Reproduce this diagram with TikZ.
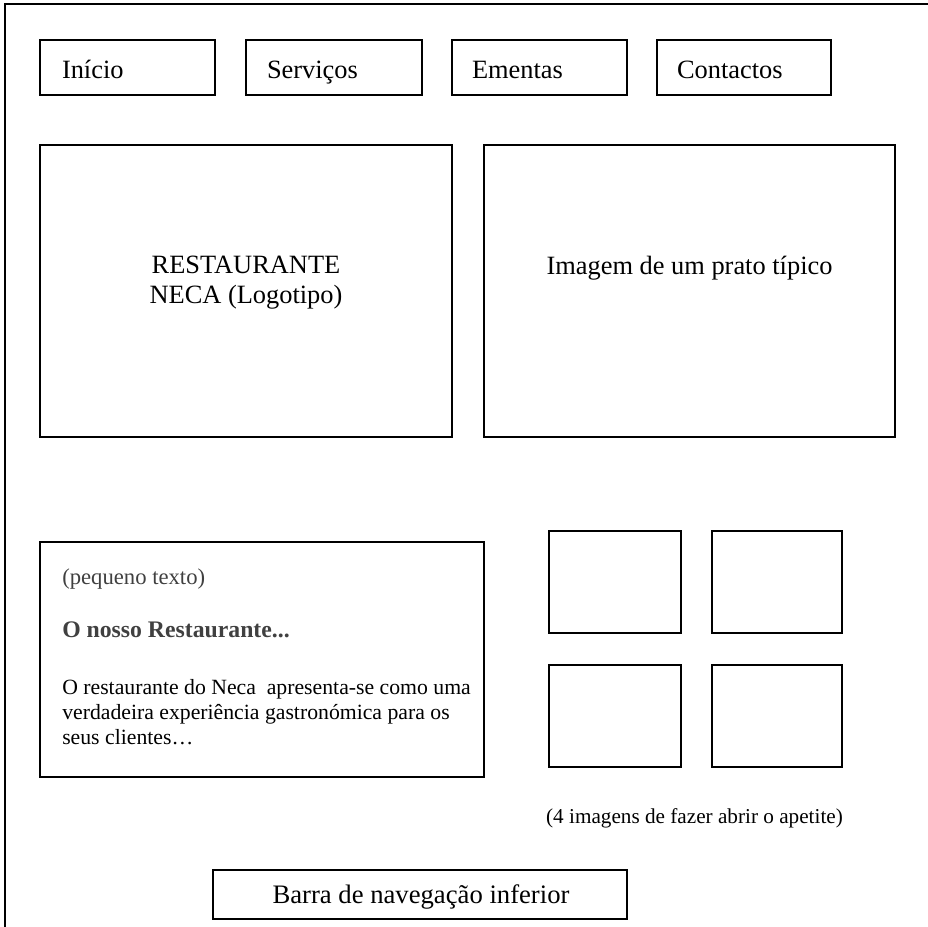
\documentclass[tikz,border=0pt]{standalone}
\usepackage{fontspec}
\setmainfont{Liberation Serif}
\definecolor{txtgray}{HTML}{404040}
\begin{document}
\begin{tikzpicture}[x=0.75pt,y=-0.75pt,
  box/.style={draw=black,line width=1.1pt,inner sep=0pt,fill=none},
  navbox/.style={draw=black,line width=1.1pt,minimum height=41.25pt,inner ysep=0pt,text height=17pt,text depth=1.2pt,align=left,font=\fontsize{19.8}{23}\selectfont},
  bigtxt/.style={font=\fontsize{19.8}{22.5}\selectfont,align=center,inner sep=0pt},
  para/.style={font=\fontsize{16.3}{18.75}\selectfont,align=left,inner sep=0pt,anchor=west},
  frame/.style={line width=1.6pt}]
\useasboundingbox (0,0) rectangle (928,927);
% outer frame
\coordinate (ftl) at (5,4);
\coordinate (ftr) at (928,4);
\coordinate (fbl) at (5,927);
\draw[frame] (ftr) -- (ftl) -- (fbl);
% navigation boxes
\node[navbox,inner xsep=16.5pt,text width=98.25pt] (inicio) at (127.5,67.5) {Início};
\node[navbox,inner xsep=15.75pt,text width=100.5pt] (servicos) at (334,67.5) {Serviços};
\node[navbox,inner xsep=15pt,text width=101.25pt] (ementas) at (539.5,67.5) {Ementas};
\node[navbox,inner xsep=15pt,text width=100.5pt] (contactos) at (744,67.5) {Contactos};
% big boxes
\node[box,minimum width=309pt,minimum height=219pt] (logo) at (246,291) {};
\node[bigtxt] (logotxt) at (246,283) {RESTAURANTE\\NECA (Logotipo)};
\node[box,minimum width=308.25pt,minimum height=219pt] (prato) at (689.5,291) {};
\node[bigtxt] (pratotxt) at (689.5,268) {Imagem de um prato típico};
% text box
\node[box,minimum width=333pt,minimum height=176.25pt] (textbox) at (262,659.5) {};
\node[para,text=txtgray,font=\fontsize{17}{20}\selectfont] (peq) at (62,579) {(pequeno texto)};
\node[para,text=txtgray,font=\bfseries\fontsize{17.8}{20}\selectfont] (nosso) at (62,630) {O nosso Restaurante...};
\node[para,anchor=north west] (desc) at (62,679) {O restaurante do Neca \ apresenta-se como uma\\verdadeira experiência gastronómica para os\\seus clientes…};
% four images
\node[box,minimum width=99pt,minimum height=76.5pt] (img1) at (615,582) {};
\node[box,minimum width=97.5pt,minimum height=76.5pt] (img2) at (777,582) {};
\node[box,minimum width=99pt,minimum height=76.5pt] (img3) at (615,716) {};
\node[box,minimum width=97.5pt,minimum height=76.5pt] (img4) at (777,716) {};
\node[inner sep=0pt,font=\fontsize{15.9}{18}\selectfont] (caption) at (694.5,818) {(4 imagens de fazer abrir o apetite)};
% bottom bar
\node[box,minimum width=310.5pt,minimum height=36.75pt] (barra) at (420,894.5) {};
\node[bigtxt,font=\fontsize{20}{23}\selectfont] (barratxt) at (421,897) {Barra de navegação inferior};
\end{tikzpicture}
\end{document}
